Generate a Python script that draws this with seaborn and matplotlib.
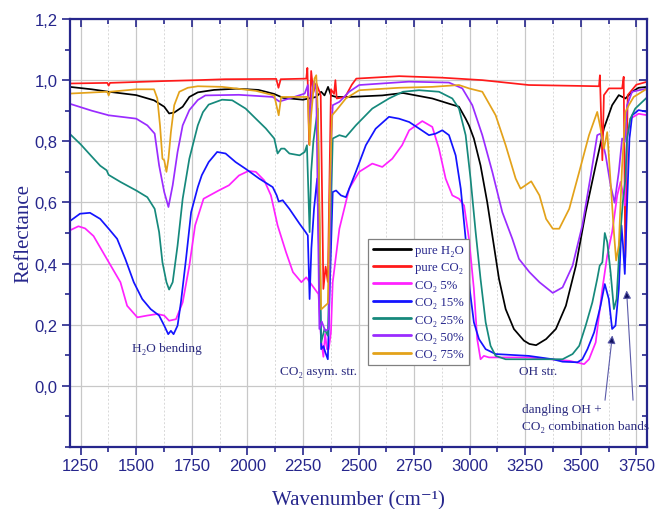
import numpy as np
import pandas as pd
import matplotlib
matplotlib.use("Agg")
import matplotlib.pyplot as plt
import matplotlib.ticker as mticker
import seaborn as sns

# --------------------------
# Spectra (wavenumber cm-1, reflectance)
# --------------------------

h2o_wn = [1200, 1300, 1376, 1500, 1580, 1626, 1648, 1671, 1709, 1739, 1777, 1850, 1950, 2050, 2120,
          2161, 2250, 2310, 2332, 2347, 2363, 2376, 2399, 2458, 2607, 2700, 2832, 2907, 2952, 2982,
          2997, 3019, 3049, 3079, 3109, 3132, 3162, 3199, 3244, 3269, 3299, 3344, 3388, 3433, 3478,
          3522, 3567, 3604, 3641, 3671, 3701, 3731, 3760, 3800]
h2o_r = [0.978, 0.970, 0.962, 0.951, 0.934, 0.913, 0.891, 0.894, 0.913, 0.945, 0.960, 0.968, 0.972,
         0.968, 0.955, 0.942, 0.936, 0.945, 0.962, 0.950, 0.978, 0.950, 0.945, 0.945, 0.950, 0.958,
         0.940, 0.923, 0.913, 0.874, 0.852, 0.809, 0.721, 0.601, 0.459, 0.350, 0.251, 0.186, 0.148,
         0.137, 0.133, 0.153, 0.186, 0.262, 0.393, 0.568, 0.721, 0.842, 0.918, 0.951, 0.940, 0.962,
         0.975, 0.978]

co2_wn = [1200, 1370, 1376, 1382, 1626, 1777, 1900, 2130, 2140, 2150, 2265, 2270, 2278, 2287, 2297,
          2310, 2330, 2342, 2352, 2362, 2376, 2390, 2396, 2402, 2440, 2470, 2490, 2683, 2877, 3057,
          3266, 3582, 3586, 3597, 3604, 3626, 3686, 3693, 3700, 3711, 3750, 3800]
co2_r = [0.989, 0.991, 0.982, 0.991, 0.997, 1.000, 1.003, 1.004, 0.975, 1.003, 1.005, 1.040, 0.790,
         1.030, 0.960, 0.990, 0.950, 0.317, 0.390, 0.340, 0.970, 0.955, 1.000, 0.940, 0.945, 0.985,
         1.005, 1.013, 1.008, 1.000, 0.984, 0.980, 1.016, 0.738, 0.951, 0.973, 0.973, 1.011, 0.420,
         0.951, 0.985, 0.995]

mix5_wn = [1200, 1240, 1270, 1308, 1368, 1429, 1459, 1505, 1550, 1595, 1626, 1648, 1679, 1709, 1739,
           1765, 1803, 1871, 1917, 1962, 2005, 2038, 2076, 2106, 2136, 2174, 2205, 2243, 2265, 2290,
           2320, 2332, 2342, 2350, 2358, 2366, 2376, 2384, 2414, 2458, 2503, 2562, 2607, 2652, 2696,
           2728, 2787, 2832, 2862, 2892, 2922, 2952, 2975, 2997, 3019, 3034, 3049, 3064, 3087, 3266,
           3448, 3515, 3537, 3567, 3597, 3619, 3641, 3664, 3679, 3689, 3698, 3708, 3723, 3760, 3800]
mix5_r = [0.508, 0.522, 0.515, 0.490, 0.415, 0.339, 0.262, 0.224, 0.230, 0.235, 0.230, 0.213, 0.218,
          0.273, 0.393, 0.525, 0.612, 0.639, 0.656, 0.688, 0.703, 0.700, 0.672, 0.623, 0.525, 0.437,
          0.372, 0.339, 0.355, 0.330, 0.300, 0.150, 0.095, 0.170, 0.120, 0.120, 0.175, 0.339, 0.514,
          0.645, 0.700, 0.727, 0.716, 0.743, 0.787, 0.836, 0.866, 0.847, 0.776, 0.678, 0.623, 0.612,
          0.590, 0.481, 0.317, 0.153, 0.087, 0.098, 0.093, 0.093, 0.082, 0.071, 0.087, 0.142, 0.317,
          0.426, 0.503, 0.623, 0.667, 0.634, 0.590, 0.809, 0.874, 0.890, 0.885]

mix15_wn = [1200, 1247, 1292, 1338, 1376, 1414, 1451, 1489, 1527, 1565, 1603, 1626, 1644, 1656, 1668,
            1686, 1701, 1724, 1747, 1777, 1795, 1826, 1864, 1902, 1947, 1992, 2053, 2114, 2132, 2141,
            2159, 2189, 2235, 2262, 2272, 2280, 2288, 2300, 2314, 2322, 2332, 2342, 2351, 2362, 2372,
            2384, 2399, 2421, 2443, 2488, 2533, 2577, 2637, 2682, 2728, 2772, 2817, 2847, 2877, 2907,
            2937, 2960, 2982, 3000, 3019, 3042, 3072, 3117, 3266, 3374, 3418, 3485, 3507, 3530, 3560,
            3589, 3608, 3626, 3641, 3656, 3671, 3683, 3690, 3698, 3708, 3719, 3731, 3760, 3800]
mix15_r = [0.538, 0.563, 0.566, 0.546, 0.514, 0.481, 0.415, 0.339, 0.284, 0.251, 0.230, 0.197, 0.169,
           0.180, 0.169, 0.197, 0.273, 0.415, 0.568, 0.650, 0.689, 0.732, 0.765, 0.760, 0.732, 0.710,
           0.678, 0.650, 0.623, 0.603, 0.607, 0.579, 0.530, 0.503, 0.492, 0.284, 0.450, 0.580, 0.678,
           0.450, 0.120, 0.130, 0.109, 0.087, 0.350, 0.634, 0.639, 0.623, 0.617, 0.700, 0.787, 0.841,
           0.880, 0.874, 0.863, 0.842, 0.820, 0.825, 0.836, 0.820, 0.754, 0.645, 0.481, 0.317, 0.208,
           0.153, 0.120, 0.104, 0.098, 0.087, 0.079, 0.077, 0.087, 0.120, 0.175, 0.262, 0.333, 0.284,
           0.186, 0.197, 0.317, 0.525, 0.459, 0.366, 0.590, 0.809, 0.885, 0.902, 0.896]

mix25_wn = [1200, 1250, 1300, 1338, 1367, 1376, 1429, 1500, 1550, 1583, 1603, 1618, 1636, 1648, 1664,
            1686, 1709, 1739, 1777, 1800, 1826, 1886, 1932, 1992, 2038, 2083, 2121, 2136, 2152, 2167,
            2189, 2235, 2258, 2268, 2280, 2287, 2297, 2317, 2332, 2347, 2362, 2372, 2384, 2414, 2443,
            2488, 2562, 2637, 2700, 2772, 2862, 2922, 2952, 2982, 3004, 3027, 3049, 3072, 3094, 3117,
            3162, 3418, 3463, 3493, 3522, 3552, 3574, 3585, 3597, 3608, 3619, 3634, 3649, 3661, 3676,
            3689, 3701, 3708, 3723, 3745, 3800]
mix25_r = [0.825, 0.790, 0.750, 0.720, 0.705, 0.690, 0.667, 0.639, 0.617, 0.579, 0.503, 0.404, 0.339,
           0.315, 0.339, 0.459, 0.612, 0.743, 0.852, 0.895, 0.920, 0.936, 0.934, 0.907, 0.874, 0.842,
           0.809, 0.760, 0.776, 0.776, 0.760, 0.754, 0.765, 0.787, 0.503, 0.700, 0.800, 0.907, 0.142,
           0.186, 0.164, 0.450, 0.809, 0.820, 0.814, 0.852, 0.907, 0.940, 0.962, 0.967, 0.962, 0.940,
           0.907, 0.820, 0.678, 0.503, 0.350, 0.208, 0.131, 0.098, 0.087, 0.087, 0.104, 0.131, 0.197,
           0.273, 0.350, 0.393, 0.404, 0.500, 0.470, 0.372, 0.251, 0.284, 0.481, 0.601, 0.678, 0.809,
           0.874, 0.907, 0.945]

mix50_wn = [1200, 1300, 1376, 1500, 1550, 1583, 1603, 1626, 1645, 1664, 1686, 1709, 1739, 1777, 1811,
            1962, 2114, 2144, 2189, 2258, 2272, 2280, 2287, 2298, 2310, 2324, 2335, 2350, 2366, 2376,
            2384, 2414, 2458, 2503, 2726, 2907, 2967, 3012, 3057, 3102, 3147, 3192, 3222, 3269, 3314,
            3374, 3418, 3463, 3507, 3545, 3574, 3589, 3612, 3634, 3652, 3671, 3686, 3698, 3708, 3731,
            3800]
mix50_r = [0.923, 0.900, 0.885, 0.874, 0.852, 0.825, 0.721, 0.634, 0.585, 0.656, 0.765, 0.852, 0.902,
           0.935, 0.950, 0.952, 0.945, 0.930, 0.940, 0.956, 0.984, 0.850, 0.930, 0.995, 0.970, 0.186,
           0.210, 0.180, 0.186, 0.776, 0.918, 0.929, 0.962, 0.984, 0.995, 0.992, 0.973, 0.918, 0.820,
           0.700, 0.568, 0.481, 0.415, 0.372, 0.339, 0.304, 0.322, 0.393, 0.525, 0.689, 0.820, 0.825,
           0.754, 0.656, 0.599, 0.700, 0.809, 0.798, 0.918, 0.962, 0.973]

mix75_wn = [1200, 1370, 1376, 1382, 1500, 1580, 1595, 1607, 1618, 1626, 1636, 1645, 1656, 1671, 1694,
            1732, 1777, 1886, 2038, 2121, 2141, 2152, 2250, 2272, 2280, 2287, 2302, 2310, 2317, 2332,
            2347, 2362, 2372, 2381, 2399, 2443, 2503, 2683, 2832, 2952, 2997, 3057, 3117, 3162, 3207,
            3229, 3251, 3277, 3314, 3344, 3374, 3403, 3448, 3493, 3537, 3574, 3589, 3604, 3619, 3634,
            3649, 3659, 3671, 3686, 3701, 3716, 3738, 3800]
mix75_r = [0.956, 0.962, 0.950, 0.962, 0.970, 0.970, 0.940, 0.852, 0.743, 0.738, 0.700, 0.743, 0.830,
           0.918, 0.962, 0.975, 0.980, 0.978, 0.965, 0.950, 0.885, 0.945, 0.945, 0.945, 0.787, 0.885,
           1.005, 1.016, 0.900, 0.250, 0.260, 0.270, 0.667, 0.885, 0.900, 0.940, 0.967, 0.975, 0.978,
           0.984, 0.973, 0.962, 0.885, 0.787, 0.678, 0.645, 0.656, 0.669, 0.623, 0.546, 0.514, 0.514,
           0.579, 0.700, 0.820, 0.896, 0.842, 0.776, 0.830, 0.667, 0.503, 0.410, 0.459, 0.721, 0.896,
           0.918, 0.945, 0.973]

labels = ["pure H\u2082O", "pure CO\u2082", "CO\u2082 5%", "CO\u2082 15%", "CO\u2082 25%",
          "CO\u2082 50%", "CO\u2082 75%"]
colors = ["#000000", "#ff1a1a", "#ff22ff", "#1414ff", "#16897c", "#9a2cff", "#e3a21a"]

# --------------------------
# Build long-form table
# --------------------------

series = [(h2o_wn, h2o_r), (co2_wn, co2_r), (mix5_wn, mix5_r), (mix15_wn, mix15_r),
          (mix25_wn, mix25_r), (mix50_wn, mix50_r), (mix75_wn, mix75_r)]
frames = []
for lab, (wn, r) in zip(labels, series):
    frames.append(pd.DataFrame({"Wavenumber": wn, "Reflectance": r, "sample": lab}))
df = pd.concat(frames, ignore_index=True)

# --------------------------
# Plot
# --------------------------

sns.set_style("white")
navy = "#26268c"
serif = ["Liberation Serif", "DejaVu Serif"]
sans = ["Liberation Sans", "DejaVu Sans"]
plt.rcParams["font.family"] = sans

fig = plt.figure(figsize=(6.56, 5.10), dpi=100)
ax = fig.add_axes([0.106, 0.1216, 0.881, 0.8392])

sns.lineplot(data=df, x="Wavenumber", y="Reflectance", hue="sample", hue_order=labels,
             palette=dict(zip(labels, colors)), sort=False, estimator=None,
             linewidth=1.25, ax=ax)

ax.set_xlim(1200, 3800)
ax.set_ylim(-0.2, 1.2)
ax.xaxis.set_major_locator(mticker.MultipleLocator(250))
ax.xaxis.set_minor_locator(mticker.MultipleLocator(125))
ax.set_yticks(np.arange(0, 1.21, 0.2))
ax.yaxis.set_minor_locator(mticker.MultipleLocator(0.1))
ax.yaxis.set_major_formatter(mticker.FuncFormatter(lambda v, p: f"{v:.1f}".replace(".", ",")))

ax.grid(which="major", axis="both", color="#c8c8c8", linewidth=0.9)
ax.grid(which="minor", axis="x", color="#d8d8d8", linewidth=0.7, linestyle=(0, (2, 2)))
ax.set_axisbelow(True)

for s in ax.spines.values():
    s.set_color(navy)
    s.set_linewidth(1.6)
ax.tick_params(which="both", colors=navy, labelcolor=navy, width=1.2, direction="out",
               bottom=True, left=True, top=True, right=True, labeltop=False, labelright=False)
ax.tick_params(which="major", length=6, labelsize=12)
ax.tick_params(axis="x", which="major", pad=2)
ax.tick_params(axis="y", which="major", pad=2.5)
ax.tick_params(which="minor", length=3.5)
# top/right ticks point inward
for t in ax.xaxis.get_major_ticks() + ax.xaxis.get_minor_ticks():
    t.tick2line.set_marker(3)
for t in ax.yaxis.get_major_ticks() + ax.yaxis.get_minor_ticks():
    t.tick2line.set_marker(0)

ax.set_xlabel("Wavenumber (cm\u207b\u00b9)", family=serif, fontsize=15, color=navy, labelpad=12)
ax.set_ylabel("Reflectance", family=serif, fontsize=15, color=navy, labelpad=1)

handles, labs = ax.get_legend_handles_labels()
leg = ax.legend(handles, labs, loc="upper left", bbox_to_anchor=(0.516, 0.486), borderaxespad=0,
                prop={"family": serif, "size": 9.2}, frameon=True, fancybox=False,
                edgecolor="#808080", handlelength=3.0, handletextpad=0.3,
                labelspacing=0.42, borderpad=0.4, framealpha=1)
leg.get_frame().set_linewidth(0.9)
for txt in leg.get_texts():
    txt.set_color(navy)
for ln in leg.get_lines():
    ln.set_linewidth(2.0)

# annotations
tcol = "#2b2b80"
ax.text(1637, 0.125, "H\u2082O bending", family=serif, fontsize=9.5, color=tcol, ha="center", va="center")
ax.text(2320, 0.047, "CO\u2082 asym. str.", family=serif, fontsize=9.5, color=tcol, ha="center", va="center")
ax.text(3309, 0.047, "OH str.", family=serif, fontsize=9.5, color=tcol, ha="center", va="center")
ax.text(3237, -0.105, "dangling OH +\nCO\u2082 combination bands", family=serif, fontsize=9.5,
        color=tcol, ha="left", va="center", linespacing=1.55)
acol = "#5a5aa8"
ax.annotate("", xy=(3642, 0.165), xytext=(3609, -0.047),
            arrowprops=dict(arrowstyle="-|>", color=acol, lw=0.8, mutation_scale=12, shrinkA=0, shrinkB=0,
                            fc="#101060"))
ax.annotate("", xy=(3706, 0.312), xytext=(3735, -0.047),
            arrowprops=dict(arrowstyle="-|>", color=acol, lw=0.8, mutation_scale=12, shrinkA=0, shrinkB=0,
                            fc="#101060"))

fig.savefig("out.png", dpi=100)
